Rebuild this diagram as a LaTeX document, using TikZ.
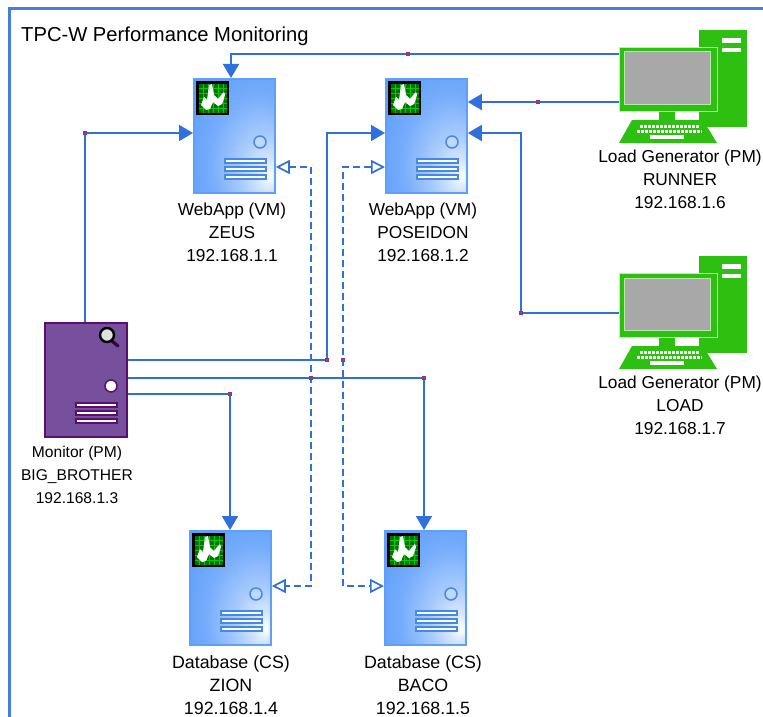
\documentclass[tikz,border=0pt]{standalone}
\usepackage{fontspec}
\usepackage{xcolor}
\setmainfont{Liberation Sans}
\usetikzlibrary{arrows.meta}

\definecolor{linkblue}{HTML}{3070DC}
\definecolor{srvedge}{HTML}{5F9FFA}
\definecolor{srvline}{HTML}{4488EE}
\definecolor{pcgreen}{HTML}{2EC010}
\definecolor{monfill}{HTML}{76509C}
\definecolor{monedge}{HTML}{5A0F6E}

\pgfdeclareradialshading{srvshade}{\pgfpoint{22bp}{-18bp}}{
  color(0bp)=(white); color(6bp)=(white!75!srvedge); color(16bp)=(white!45!srvedge);
  color(30bp)=(white!15!srvedge); color(44bp)=(srvedge); color(100bp)=(srvedge)}

\tikzset{
  link/.style={linkblue,line width=1.8pt},
  solidtip/.style={link,-{Triangle[length=14pt,width=16pt]}},
  dashlink/.style={linkblue,line width=1.7pt,dash pattern=on 7pt off 4pt,
    {Triangle[open,length=14pt,width=14pt,fill=white]}-{Triangle[open,length=14pt,width=14pt,fill=white]}},
  handle/.style={draw=red!60!linkblue,fill=red!30!linkblue,fill opacity=0.5,line width=0.5pt,inner sep=0pt,minimum size=3pt},
  srvbody/.style={draw=srvedge,line width=1.8pt,shading=srvshade,anchor=north west,
    minimum width=81pt,minimum height=114pt,inner sep=0pt},
  monbody/.style={draw=monedge,line width=1.8pt,fill=monfill,anchor=north west,
    minimum width=82pt,minimum height=114pt,inner sep=0pt},
  hostlabel/.style={align=center,font=\fontsize{17.3}{23}\selectfont,inner sep=0pt},
}

% details on a server body, #1 #2 = top left corner
\newcommand{\srvdetail}[2]{
  \begin{scope}[shift={(#1,#2)}]
    \fill [black] (3,3) rectangle (36,37);
    \fill [green!45!black] (5.5,5.5) rectangle (33.5,34.5);
    \draw [green!80!black,line width=0.3pt,step=5pt] (5.5,5.5) grid (33.5,34.5);
    \fill [white] (8,27) -- (11,19) -- (14,22) -- (16,7) -- (19,6) -- (21,17) -- (25,21) -- (28,17) -- (31,14) -- (32,17) -- (29,26) -- (25,28) -- (20,24) -- (17,31) -- (13,32) -- cycle;
    \draw [srvline,line width=1.5pt,fill=white!60!srvedge] (67,64) circle (6);
    \foreach \y in {81,89,97}
      \draw [srvline,line width=1.3pt,fill=white] (32,\y) rectangle (73,\y+4);
  \end{scope}
}

% load generator, #1 = name of the node, #2 = vertical offset
\newcommand{\loadpc}[2]{
  \begin{scope}[yshift=-#2pt]
    \fill [pcgreen] (699,30) rectangle (747,127);
    \fill [white] (722,38) rectangle (741,43);
    \fill [white] (722,48) rectangle (741,52);
    \fill [pcgreen] (659,108) rectangle (675,122);
    \node [draw=white!70!pcgreen,fill=pcgreen,line width=0.6pt,anchor=north west,minimum width=98pt,minimum height=64pt,inner sep=0pt] (#1) at (619,47) {};
    \draw [white!65!pcgreen,line width=1pt,fill=black!34] (624,52) rectangle (710,104);
    \fill [pcgreen] (632,120) -- (703,120) -- (717,143) -- (619,143) -- cycle;
    \draw [white,line width=3pt,dash pattern=on 3pt off 1pt] (640,126) -- (699,126);
    \draw [white,line width=3pt,dash pattern=on 3pt off 1pt] (637,131.5) -- (702,131.5);
    \fill [white] (650,135) rectangle (684,139);
  \end{scope}
}

\begin{document}
\begin{tikzpicture}[x=1pt,y=-1pt]
  \useasboundingbox (0,0) rectangle (763,717);
  \fill [white] (0,0) rectangle (763,717);
  \draw [linkblue!90!white,line width=3pt] (9,717) -- (9,9) -- (763,9);
  \node [anchor=west,inner sep=0pt,font=\fontsize{20.2}{24}\selectfont] (title) at (21,36) {TPC-W Performance Monitoring};

  % hosts
  \node [srvbody] (zeus) at (193,78) {};
  \srvdetail{193}{78}
  \node [srvbody] (poseidon) at (385,78) {};
  \srvdetail{385}{78}
  \node [srvbody] (zion) at (189,530) {};
  \srvdetail{189}{530}
  \node [srvbody] (baco) at (384,530) {};
  \srvdetail{384}{530}
  \node [monbody] (big) at (44,322) {};
  \draw [monedge!50!black,line width=3.2pt,line cap=round] (112,341) -- (118,346);
  \draw [black,line width=2.4pt,fill=white!88!black] (107,335) circle (7);
  \draw [monedge,line width=1.5pt,fill=white] (111,386) circle (6);
  \foreach \y in {403,411,419}
    \draw [monedge,line width=1.3pt,fill=white] (76,\y) rectangle (117,\y+4);
  \loadpc{runner}{0}
  \loadpc{load}{226}

  % labels
  \node [hostlabel] (zeus-label) at (232,232) {WebApp (VM)\\ZEUS\\192.168.1.1};
  \node [hostlabel] (poseidon-label) at (423,232) {WebApp (VM)\\POSEIDON\\192.168.1.2};
  \node [hostlabel,font=\fontsize{17.8}{23}\selectfont] (zion-label) at (231,685) {Database (CS)\\ZION\\192.168.1.4};
  \node [hostlabel,font=\fontsize{17.8}{23}\selectfont] (baco-label) at (423,685) {Database (CS)\\BACO\\192.168.1.5};
  \node [hostlabel,font=\fontsize{15.6}{23}\selectfont] (big-label) at (77,475) {Monitor (PM)\\BIG\_BROTHER\\192.168.1.3};
  \node [hostlabel] (runner-label) at (680,179) {Load Generator (PM)\\RUNNER\\192.168.1.6};
  \node [hostlabel] (load-label) at (680,405) {Load Generator (PM)\\LOAD\\192.168.1.7};

  % bend points of the connectors
  \coordinate (h1) at (408,54);
  \coordinate (h2) at (538,102);
  \coordinate (h3) at (521,313);
  \coordinate (h4) at (85,133);
  \coordinate (h5) at (327,360);
  \coordinate (h6) at (424,378);
  \coordinate (h7) at (230,394);
  \coordinate (h8) at (311,378);
  \coordinate (h9) at (343,360);

  % connectors
  \draw [solidtip] (runner.west |- h1) -- (h1) -- (231,54) -- (zeus.north -| 231,0);
  \draw [solidtip] (runner.west |- h2) -- (h2) -- (poseidon.east |- h2);
  \draw [solidtip] (load.west |- h3) -- (h3) -- (521,133) -- (poseidon.east |- 0,133);
  \draw [solidtip] (big.north -| h4) -- (h4) -- (zeus.west |- h4);
  \draw [solidtip] (big.east |- h5) -- (h5) -- (327,133) -- (poseidon.west |- 0,133);
  \draw [solidtip] (big.east |- h6) -- (h6) -- (baco.north -| h6);
  \draw [solidtip] (big.east |- h7) -- (h7) -- (zion.north -| h7);
  \draw [dashlink] (zeus.east |- 0,167) -- (311,167) -- (h8) -- (311,586) -- (zion.east |- 0,586);
  \draw [dashlink] (poseidon.west |- 0,167) -- (343,167) -- (h9) -- (343,586) -- (baco.west |- 0,586);
  \foreach \h in {h1,h2,h3,h4,h5,h6,h7,h8,h9}
    \node [handle] (\h-mark) at (\h) {};
\end{tikzpicture}
\end{document}
